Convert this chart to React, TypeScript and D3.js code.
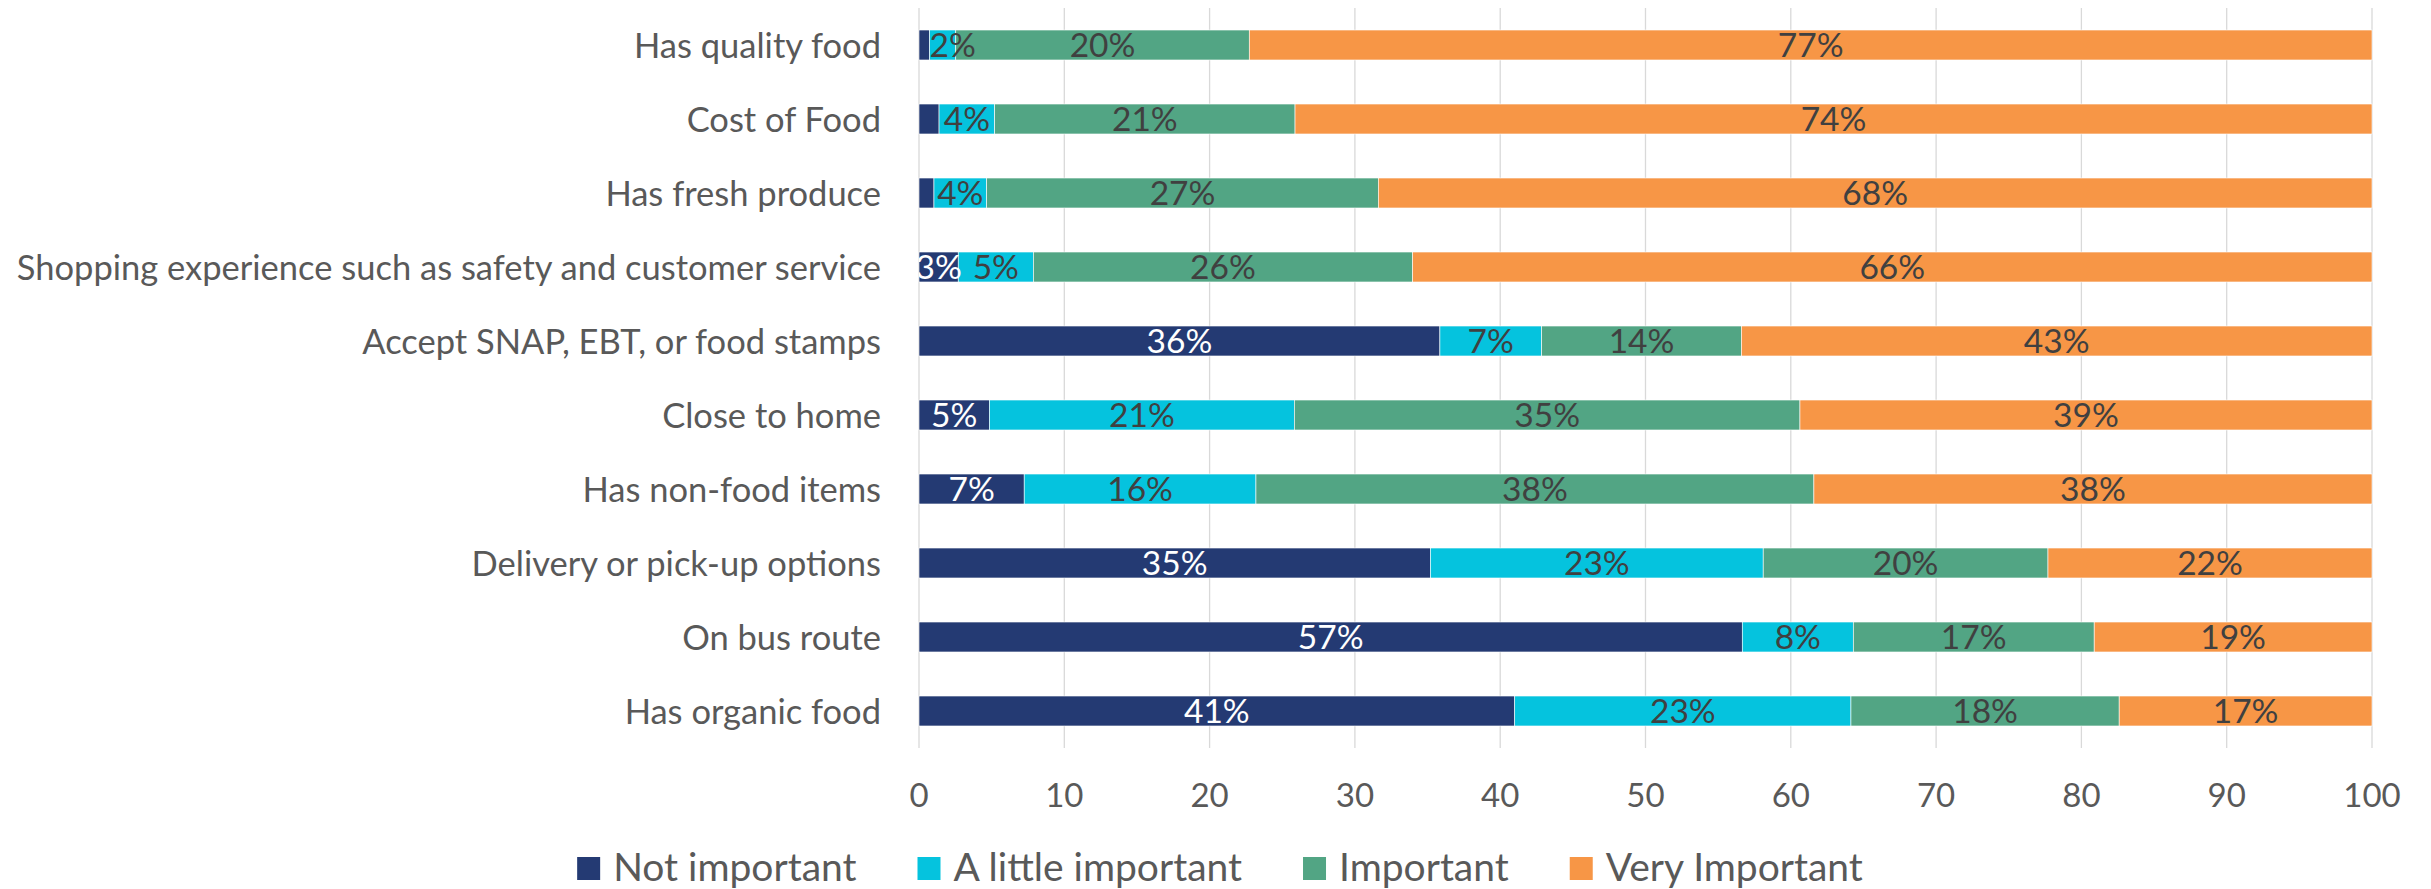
import React, { useEffect, useRef } from "react";
import * as d3 from "d3";

const categories = [
  "Has quality food",
  "Cost of Food",
  "Has fresh produce",
  "Shopping experience such as safety and customer service",
  "Accept SNAP, EBT, or food stamps",
  "Close to home",
  "Has non-food items",
  "Delivery or pick-up options",
  "On bus route",
  "Has organic food",
];
const seriesNames = ["Not important", "A little important", "Important", "Very Important"];
const notImportant = [0.73, 1.38, 1.03, 2.7, 35.85, 4.85, 7.24, 35.2, 56.66, 41.0];
const aLittleImportant = [1.8, 3.83, 3.63, 5.17, 7.0, 20.98, 15.95, 22.9, 7.64, 23.14];
const important = [20.2, 20.67, 26.95, 26.1, 13.75, 34.8, 38.4, 19.6, 16.58, 18.46];
const veryImportant = [77.27, 74.12, 68.39, 66.03, 43.4, 39.37, 38.41, 22.3, 19.12, 17.4];
const xTicks = [0, 10, 20, 30, 40, 50, 60, 70, 80, 90, 100];
const colors = ["#243A73", "#05C3DE", "#52A584", "#F79646"];
const labelColors = ["#FFFFFF", "#404040", "#404040", "#404040"];
const minLabelValue = 1.5;

const W = 2431;
const H = 889;
const FONT = "Lato, 'Open Sans', sans-serif";
const FS_CAT = 34.5;
const FS_TICK = 33;
const FS_DATA = 33.5;
const FS_LEG = 39;

export default function App() {
  const ref = useRef<SVGSVGElement>(null);
  useEffect(() => {
    const svg = d3.select(ref.current);
    svg.selectAll("*").remove();
    const series = [notImportant, aLittleImportant, important, veryImportant];
    const x = d3.scaleLinear().domain([0, 100]).range([919, 2372]);
    const y = d3
      .scaleBand<string>()
      .domain(categories)
      .range([8, 748])
      .paddingInner(0.595)
      .paddingOuter(0.2975);

    svg
      .append("defs")
      .append("clipPath")
      .attr("id", "plotclip")
      .append("rect")
      .attr("x", x(0))
      .attr("y", 0)
      .attr("width", x(100) - x(0) + 40)
      .attr("height", 760);

    // gridlines
    svg
      .append("g")
      .selectAll("line")
      .data(xTicks)
      .join("line")
      .attr("x1", (d) => x(d))
      .attr("x2", (d) => x(d))
      .attr("y1", 8)
      .attr("y2", 748)
      .attr("stroke", "#D9D9D9")
      .attr("stroke-width", 1.3);

    // tick labels
    svg
      .append("g")
      .selectAll("text")
      .data(xTicks)
      .join("text")
      .attr("x", (d) => x(d))
      .attr("y", 807)
      .attr("text-anchor", "middle")
      .attr("font-family", FONT)
      .attr("font-size", FS_TICK)
      .attr("fill", "#595959")
      .text((d) => String(d));

    // category labels
    svg
      .append("g")
      .selectAll("text")
      .data(categories)
      .join("text")
      .attr("x", 881)
      .attr("y", (d) => (y(d) as number) + y.bandwidth() / 2 + 12.5)
      .attr("text-anchor", "end")
      .attr("font-family", FONT)
      .attr("font-size", FS_CAT)
      .attr("fill", "#595959")
      .text((d) => d);

    // stacked bars
    const stacked = categories.map((c, i) => {
      let acc = 0;
      return series.map((s, k) => {
        const x0 = acc;
        acc += s[i];
        return { c, k, x0, x1: acc, v: s[i] };
      });
    });
    const segs = stacked.flat();
    svg
      .append("g")
      .selectAll("rect")
      .data(segs)
      .join("rect")
      .attr("x", (d) => x(d.x0))
      .attr("y", (d) => y(d.c) as number)
      .attr("width", (d) => x(d.x1) - x(d.x0))
      .attr("height", y.bandwidth())
      .attr("fill", (d) => colors[d.k])
      .attr("stroke", "#FFFFFF")
      .attr("stroke-width", 0.6);

    const labels = svg
      .append("g")
      .attr("clip-path", "url(#plotclip)")
      .selectAll("text")
      .data(segs.filter((d) => d.v >= minLabelValue))
      .join("text")
      .attr("y", (d) => (y(d.c) as number) + y.bandwidth() / 2 + 12)
      .attr("text-anchor", "middle")
      .attr("font-family", FONT)
      .attr("font-size", FS_DATA)
      .attr("fill", (d) => labelColors[d.k])
      .text((d) => `${Math.round(d.v)}%`);
    labels.each(function (d) {
      const w = (this as SVGTextElement).getComputedTextLength();
      const center = x((d.x0 + d.x1) / 2);
      const cx = d.x0 > 0 ? Math.max(center, x(d.x0) + w / 2) : center;
      d3.select(this).attr("x", cx);
    });

    // legend
    const lg = svg.append("g");
    const items = seriesNames.map((name, k) => {
      const g = lg.append("g");
      g.append("rect")
        .attr("x", 0)
        .attr("y", 857)
        .attr("width", 23)
        .attr("height", 23)
        .attr("fill", colors[k]);
      const t = g
        .append("text")
        .attr("x", 36)
        .attr("y", 881)
        .attr("font-family", FONT)
        .attr("font-size", FS_LEG)
        .attr("fill", "#595959")
        .text(name);
      const w = (t.node() as SVGTextElement).getComputedTextLength();
      return { g, w: 36 + w };
    });
    const gap = 61;
    const total = d3.sum(items, (d) => d.w) + gap * (items.length - 1);
    let cx = 1220 - total / 2;
    items.forEach((it) => {
      it.g.attr("transform", `translate(${cx},0)`);
      cx += it.w + gap;
    });
  }, []);
  return (
    <svg
      ref={ref}
      width={W}
      height={H}
      style={{ position: "absolute", left: 0, top: 0, background: "#fff" }}
    />
  );
}
